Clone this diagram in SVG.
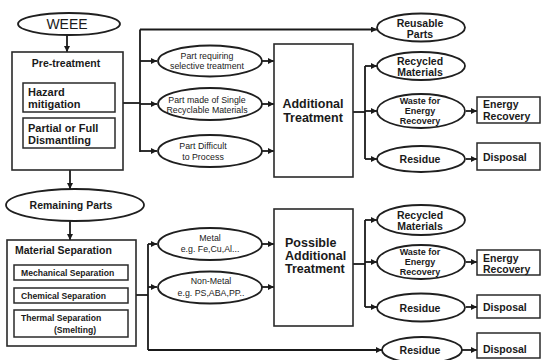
<svg xmlns="http://www.w3.org/2000/svg" width="542" height="360" viewBox="0 0 542 360">
<defs>
<marker id="arr" markerUnits="userSpaceOnUse" markerWidth="7" markerHeight="6" refX="6" refY="3" orient="auto">
<path d="M0,0 L6,3 L0,6 Z" fill="#1a1a1a"/>
</marker>
<style>
.box{fill:#fff;stroke:#2a2a2a;stroke-width:1.6}
.sub{fill:#fff;stroke:#2a2a2a;stroke-width:1.5}
.ell{fill:#fff;stroke:#1f1f1f;stroke-width:1.8}
.ln{fill:none;stroke:#1a1a1a;stroke-width:1.8}
.ar{fill:none;stroke:#1a1a1a;stroke-width:1.8;marker-end:url(#arr)}
text{font-family:"Liberation Sans",Arial,sans-serif;fill:#1a1a1a;dominant-baseline:central}
.b{font-weight:bold}
.c{text-anchor:middle}
.s{font-size:8.8px}
.m{font-size:10.5px}
.w{font-size:9px}
</style>
</defs>
<rect width="542" height="360" fill="#fff"/>

<g id="connectors">
<line class="ar" x1="67" y1="35" x2="67" y2="52"/>
<line class="ln" x1="123" y1="103" x2="140" y2="103"/>
<line class="ln" x1="140" y1="29.5" x2="140" y2="152"/>
<line class="ar" x1="140" y1="29.5" x2="377" y2="29.5"/>
<line class="ar" x1="140" y1="61" x2="157" y2="61"/>
<line class="ar" x1="140" y1="104" x2="157" y2="104"/>
<line class="ar" x1="140" y1="151" x2="157" y2="151"/>
<line class="ar" x1="262" y1="61" x2="274" y2="61"/>
<line class="ar" x1="262" y1="104" x2="274" y2="104"/>
<line class="ar" x1="262" y1="151" x2="274" y2="151"/>
<line class="ln" x1="353" y1="112" x2="365" y2="112"/>
<line class="ln" x1="365" y1="66" x2="365" y2="159"/>
<line class="ar" x1="365" y1="66" x2="377" y2="66"/>
<line class="ar" x1="365" y1="111" x2="377" y2="111"/>
<line class="ar" x1="365" y1="159" x2="377" y2="159"/>
<line class="ar" x1="466" y1="111" x2="477" y2="111"/>
<line class="ar" x1="466" y1="159" x2="477" y2="159"/>
<line class="ar" x1="70" y1="170" x2="70" y2="189"/>
<line class="ar" x1="70" y1="221" x2="70" y2="240"/>
<line class="ln" x1="136" y1="295" x2="148" y2="295"/>
<line class="ln" x1="148" y1="244" x2="148" y2="350"/>
<line class="ar" x1="148" y1="244" x2="157" y2="244"/>
<line class="ar" x1="148" y1="287" x2="157" y2="287"/>
<line class="ar" x1="148" y1="350" x2="382" y2="350"/>
<line class="ar" x1="262" y1="244" x2="274" y2="244"/>
<line class="ar" x1="262" y1="287" x2="274" y2="287"/>
<line class="ln" x1="353" y1="264" x2="365" y2="264"/>
<line class="ln" x1="365" y1="220" x2="365" y2="307"/>
<line class="ar" x1="365" y1="220" x2="377" y2="220"/>
<line class="ar" x1="365" y1="262" x2="377" y2="262"/>
<line class="ar" x1="365" y1="307" x2="377" y2="307"/>
<line class="ar" x1="466" y1="262" x2="477" y2="262"/>
<line class="ar" x1="466" y1="307" x2="477" y2="307"/>
<line class="ar" x1="462" y1="350" x2="477" y2="350"/>
</g>

<g id="weee">
<ellipse class="ell" cx="69" cy="24" rx="51" ry="11"/>
<text class="c" x="67" y="24" font-size="14">WEEE</text>
</g>

<g id="pretreatment">
<rect class="box" x="12" y="52" width="111" height="118"/>
<text class="b c" x="66" y="63" font-size="10.5">Pre-treatment</text>
</g>
<g id="hazard">
<rect class="sub" x="23" y="83" width="92" height="29"/>
<text class="b" x="28" y="92" font-size="11">Hazard</text>
<text class="b" x="28" y="104" font-size="11">mitigation</text>
</g>
<g id="dismantling">
<rect class="sub" x="23" y="118" width="92" height="30"/>
<text class="b" x="28" y="128" font-size="11">Partial or Full</text>
<text class="b" x="28" y="140" font-size="11">Dismantling</text>
</g>

<g id="selective">
<ellipse class="ell" cx="210" cy="61" rx="52" ry="15.5"/>
<text class="c s" x="207" y="55.5">Part requiring</text>
<text class="c s" x="207" y="65.5">selective treatment</text>
</g>
<g id="single">
<ellipse class="ell" cx="210" cy="104" rx="52" ry="16"/>
<text class="c s" x="207" y="99.5">Part made of Single</text>
<text class="c s" x="207" y="109.5">Recyclable Materials</text>
</g>
<g id="difficult">
<ellipse class="ell" cx="210" cy="151" rx="52" ry="16"/>
<text class="c s" x="203" y="146">Part  Difficult</text>
<text class="c s" x="203" y="157">to Process</text>
</g>

<g id="additional">
<rect class="box" x="274" y="44" width="79" height="133"/>
<text class="b c" x="313" y="104" font-size="12.5">Additional</text>
<text class="b c" x="313" y="118" font-size="12.5">Treatment</text>
</g>

<g id="reusable">
<ellipse class="ell" cx="421" cy="27.5" rx="44" ry="14"/>
<text class="b c m" x="420" y="22.5">Reusable</text>
<text class="b c m" x="420" y="33.5">Parts</text>
</g>
<g id="recycled1">
<ellipse class="ell" cx="421" cy="66" rx="44" ry="14"/>
<text class="b c m" x="420" y="61">Recycled</text>
<text class="b c m" x="420" y="72">Materials</text>
</g>
<g id="waste1">
<ellipse class="ell" cx="421" cy="111" rx="44" ry="17"/>
<text class="b c w" x="420" y="101">Waste for</text>
<text class="b c w" x="420" y="111">Energy</text>
<text class="b c w" x="420" y="121">Recovery</text>
</g>
<g id="residue1">
<ellipse class="ell" cx="421" cy="159" rx="44" ry="13"/>
<text class="b c m" x="420" y="159">Residue</text>
</g>
<g id="energy1">
<rect class="sub" x="477" y="97" width="63" height="26"/>
<text class="b m" x="483" y="104">Energy</text>
<text class="b m" x="483" y="116">Recovery</text>
</g>
<g id="disposal1">
<rect class="sub" x="477" y="143" width="63" height="27"/>
<text class="b m" x="483" y="157">Disposal</text>
</g>

<g id="remaining">
<ellipse class="ell" cx="75" cy="205" rx="69" ry="16"/>
<text class="b c" x="71" y="205" font-size="10.5">Remaining Parts</text>
</g>

<g id="materialsep">
<rect class="box" x="7" y="240" width="129" height="106"/>
<text class="b" x="15" y="249.5" font-size="10.5">Material Separation</text>
</g>
<g id="mechanical">
<rect class="sub" x="14" y="265" width="114" height="15"/>
<text class="b" x="21" y="273" font-size="8.6">Mechanical Separation</text>
</g>
<g id="chemical">
<rect class="sub" x="14" y="288" width="114" height="15"/>
<text class="b" x="21" y="296" font-size="8.6">Chemical Separation</text>
</g>
<g id="thermal">
<rect class="sub" x="14" y="310" width="114" height="27"/>
<text class="b" x="21" y="318" font-size="8.6">Thermal Separation</text>
<text class="b" x="54" y="330" font-size="8.6">(Smelting)</text>
</g>

<g id="metal">
<ellipse class="ell" cx="210" cy="244" rx="52" ry="16"/>
<text class="c s" x="210" y="238">Metal</text>
<text class="c s" x="210" y="249">e.g. Fe,Cu,Al...</text>
</g>
<g id="nonmetal">
<ellipse class="ell" cx="210" cy="287.5" rx="52" ry="16"/>
<text class="c s" x="211" y="281">Non-Metal</text>
<text class="c s" x="211" y="292.5">e.g. PS,ABA,PP..</text>
</g>

<g id="possible">
<rect class="box" x="274" y="209" width="79" height="117"/>
<text class="b" x="285" y="243" font-size="12.5">Possible</text>
<text class="b" x="285" y="256" font-size="12.5">Additional</text>
<text class="b" x="285" y="269" font-size="12.5">Treatment</text>
</g>

<g id="recycled2">
<ellipse class="ell" cx="421" cy="220" rx="44" ry="15"/>
<text class="b c m" x="420" y="214.5">Recycled</text>
<text class="b c m" x="420" y="226">Materials</text>
</g>
<g id="waste2">
<ellipse class="ell" cx="421" cy="262" rx="44" ry="17"/>
<text class="b c w" x="420" y="252">Waste for</text>
<text class="b c w" x="420" y="262">Energy</text>
<text class="b c w" x="420" y="272">Recovery</text>
</g>
<g id="residue2">
<ellipse class="ell" cx="421" cy="307.5" rx="44" ry="14"/>
<text class="b c m" x="420" y="308">Residue</text>
</g>
<g id="energy2">
<rect class="sub" x="477" y="250" width="63" height="25"/>
<text class="b m" x="483" y="257.5">Energy</text>
<text class="b m" x="483" y="269">Recovery</text>
</g>
<g id="disposal2">
<rect class="sub" x="477" y="295" width="63" height="23"/>
<text class="b m" x="483" y="307">Disposal</text>
</g>

<g id="residue3">
<ellipse class="ell" cx="422" cy="350" rx="40" ry="13"/>
<text class="b c m" x="420" y="350">Residue</text>
</g>
<g id="disposal3">
<rect class="sub" x="477" y="333" width="63" height="25"/>
<text class="b m" x="483" y="349">Disposal</text>
</g>
</svg>
